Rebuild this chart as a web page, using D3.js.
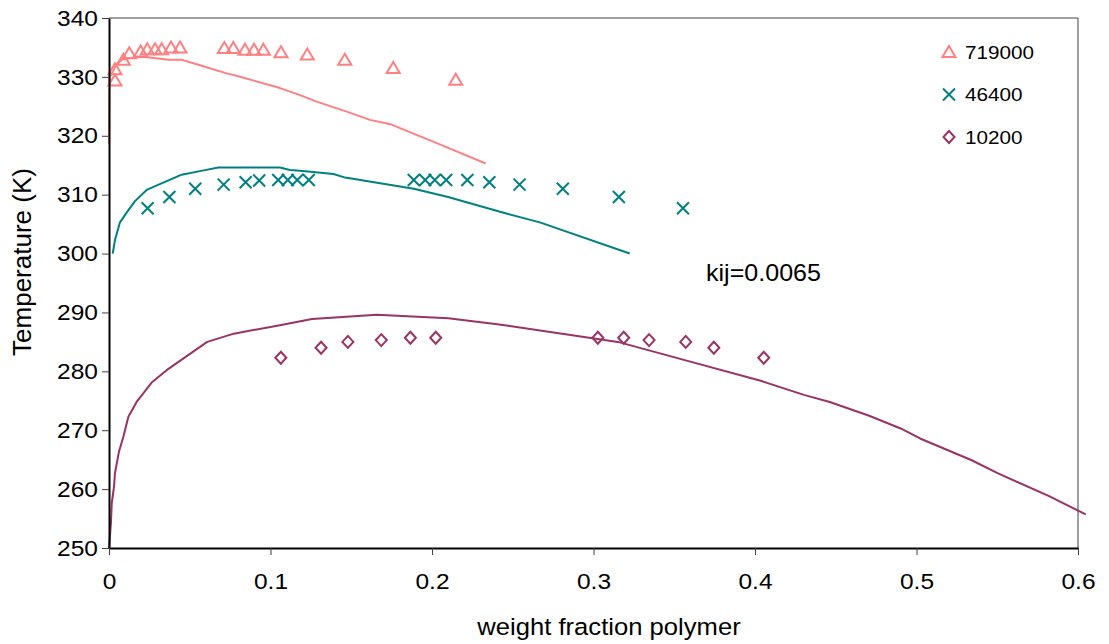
<!DOCTYPE html>
<html><head><meta charset="utf-8">
<script src="https://cdn.jsdelivr.net/npm/d3@7"></script>
<style>body{margin:0;background:#fff}svg{display:block}text{font-family:"Liberation Sans",Arial,sans-serif;fill:#000}</style>
</head><body>
<svg id="c" width="1109" height="644"></svg>
<script>
// ---- data ----
const seriesNames = ["719000", "46400", "10200"];
const colors = ["#FF8080", "#008080", "#993366"];
// experimental points [weight fraction, T]
const pts719000 = [[0.0037,329.4],[0.0037,331.3],[0.0089,332.9],[0.0126,334.0],[0.0196,334.3],[0.0237,334.7],[0.0285,334.7],[0.0326,334.7],[0.0384,335.0],[0.044,335.0],[0.0714,334.9],[0.077,334.9],[0.0842,334.6],[0.0898,334.6],[0.0956,334.6],[0.1065,334.2],[0.1228,333.8],[0.146,332.9],[0.176,331.5],[0.2147,329.5]];
const pts46400 = [[0.0239,307.7],[0.0374,309.6],[0.0534,311.0],[0.071,311.7],[0.0846,312.1],[0.093,312.4],[0.1048,312.5],[0.1107,312.5],[0.1166,312.5],[0.1237,312.5],[0.1887,312.5],[0.1958,312.5],[0.2017,312.5],[0.2088,312.5],[0.2219,312.5],[0.2355,312.1],[0.2542,311.7],[0.281,311.0],[0.3157,309.6],[0.3554,307.7]];
const pts10200 = [[0.1064,282.3],[0.1313,284.0],[0.1479,285.0],[0.1686,285.3],[0.1866,285.7],[0.2023,285.7],[0.3027,285.7],[0.3187,285.7],[0.3344,285.3],[0.3571,285.0],[0.3745,284.0],[0.4054,282.3]];
// model curves
const line719000 = [[0,318.6],[0.0003,330.0],[0.0017,330.6],[0.0043,332.0],[0.0079,332.9],[0.0126,333.2],[0.0212,333.4],[0.0367,332.9],[0.045,332.9],[0.0584,331.8],[0.0729,330.6],[0.079,330.2],[0.1059,328.1],[0.1183,326.9],[0.1286,325.8],[0.1472,324.1],[0.1616,322.7],[0.175,321.9],[0.19,320.2],[0.2,319.1],[0.213,317.6],[0.2333,315.3]];
const line46400 = [[0.0023,300.0],[0.0037,302.3],[0.0068,305.3],[0.011,307.0],[0.0161,308.9],[0.0233,310.8],[0.0357,312.3],[0.045,313.4],[0.0563,314.0],[0.0677,314.6],[0.1059,314.6],[0.112,314.2],[0.12,314.0],[0.139,313.5],[0.1462,312.9],[0.1887,311.0],[0.21,309.6],[0.2432,307.0],[0.2668,305.3],[0.3224,300.0]];
const line10200 = [[0,250],[0.0012,254.2],[0.0017,257.6],[0.0031,260.4],[0.0037,262.7],[0.0062,266.4],[0.0089,268.9],[0.012,272.3],[0.0171,274.8],[0.0264,278.1],[0.0357,280.2],[0.0608,285.0],[0.0773,286.4],[0.105,287.8],[0.1257,288.9],[0.1658,289.6],[0.21,289.0],[0.2404,288.0],[0.3151,285.0],[0.3565,281.9],[0.4035,278.4],[0.4303,276.0],[0.4463,274.8],[0.4703,272.5],[0.4902,270.3],[0.5022,268.6],[0.5342,264.9],[0.5502,262.7],[0.5821,258.8],[0.6048,255.7]];
const xTicks = [0,0.1,0.2,0.3,0.4,0.5,0.6];
const xTickLabels = ["0","0.1","0.2","0.3","0.4","0.5","0.6"];
const yTicks = [250,260,270,280,290,300,310,320,330,340];
const xTitle = "weight fraction polymer";
const yTitle = "Temperature (K)";
const note = "kij=0.0065";

// ---- drawing ----
const SX = 1.09; // slight horizontal text stretch of the original
const svg = d3.select("#c");
const L = 109, R = 1078, T = 18, B = 548;
const x = d3.scaleLinear().domain([0,0.6]).range([L,R]);
const y = d3.scaleLinear().domain([250,340]).range([B,T]);

// plot border (top/right)
svg.append("path").attr("d",`M${L},${T}H${R}V${B}`).attr("fill","none").attr("stroke","#404040").attr("stroke-width",1);

const lineGen = d3.line().x(d=>x(d[0])).y(d=>y(d[1]));
const lines = [line719000, line46400, line10200];
lines.forEach((ln,i)=>{
  svg.append("path").datum(ln).attr("d",lineGen).attr("fill","none")
    .attr("stroke",colors[i]).attr("stroke-width",2).attr("stroke-linejoin","round");
});

function marker(g, type, cx, cy, col){
  if(type===0){
    g.append("path").attr("d",`M${cx},${cy-6}L${cx+6.5},${cy+5}L${cx-6.5},${cy+5}Z`)
      .attr("fill","none").attr("stroke",col).attr("stroke-width",2);
  } else if(type===1){
    g.append("path").attr("d",`M${cx-6},${cy-6}L${cx+6},${cy+6}M${cx-6},${cy+6}L${cx+6},${cy-6}`)
      .attr("fill","none").attr("stroke",col).attr("stroke-width",2);
  } else {
    g.append("path").attr("d",`M${cx},${cy-6}L${cx+5.5},${cy}L${cx},${cy+6}L${cx-5.5},${cy}Z`)
      .attr("fill","none").attr("stroke",col).attr("stroke-width",2);
  }
}
const pts = [pts719000, pts46400, pts10200];
pts.forEach((p,i)=>{
  const g = svg.append("g");
  p.forEach(d=>marker(g,i,x(d[0]),y(d[1]),colors[i]));
});

// axes
const yAxis = svg.append("g").attr("transform",`translate(${L},0)`)
  .call(d3.axisLeft(y).tickValues(yTicks).tickSize(7).tickPadding(4).tickSizeOuter(0));
const xAxis = svg.append("g").attr("transform",`translate(0,${B})`)
  .call(d3.axisBottom(x).tickValues(xTicks).tickFormat((d,i)=>xTickLabels[i]).tickSize(7).tickPadding(18).tickSizeOuter(0));
[yAxis,xAxis].forEach(a=>{
  a.select(".domain").attr("stroke","#000").attr("stroke-width",2);
  a.selectAll(".tick line").attr("stroke","#404040").attr("stroke-width",1);
  a.selectAll(".tick text").attr("font-size",22.5).attr("font-family","Liberation Sans, Arial, sans-serif").attr("fill","#000");
});
yAxis.selectAll(".tick text").each(function(){
  const t = d3.select(this); const xx = +t.attr("x");
  t.attr("x", xx/SX).attr("transform",`scale(${SX},1)`);
});
xAxis.selectAll(".tick text").attr("transform",`scale(${SX},1)`);

// titles
svg.append("text").attr("transform",`translate(609,635) scale(${SX},1)`)
  .attr("text-anchor","middle").attr("font-size",23.5).text(xTitle);
svg.append("text").attr("transform",`translate(31,262) rotate(-90)`)
  .attr("text-anchor","middle").attr("font-size",26).text(yTitle);
svg.append("text").attr("transform",`translate(706,281) scale(${SX},1)`)
  .attr("font-size",23).text(note);

// legend
const lg = svg.append("g");
seriesNames.forEach((n,i)=>{
  const cy = 52 + i*42.5;
  marker(lg,i,949,cy,colors[i]);
  lg.append("text").attr("transform",`translate(965,${cy+6.5}) scale(${SX},1)`)
    .attr("font-size",19).text(n);
});
</script>
</body></html>
